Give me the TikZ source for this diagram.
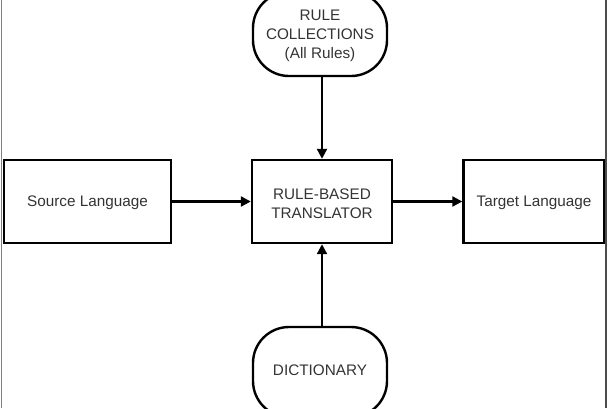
\documentclass[tikz,border=0pt]{standalone}
\usepackage{fontspec}
\setmainfont{Liberation Sans}
\usetikzlibrary{arrows.meta}
\definecolor{txt}{gray}{0.2}
\tikzset{
  lbl/.style={text=txt, font=\fontsize{15.3}{19}\selectfont, align=center},
  box/.style={draw=black, line width=2.4pt, minimum height=83pt, inner sep=0pt},
  pill/.style={draw=black, line width=2.4pt, rounded corners=36pt, minimum width=134pt,
    inner sep=0pt},
  arr/.style={line width=2.2pt, -{Triangle[length=10pt,width=10pt]}},
  edge/.style={line width=1pt, draw=black!70}
}
\begin{document}
\begin{tikzpicture}[x=1pt,y=-1pt]
\useasboundingbox (0,0) rectangle (612,408);
\clip (0,0) rectangle (612,408);
\node[box, minimum width=167pt] (src) at (87.5,201.5) {};
\node[lbl] (srct) at (87.5,203) {Source Language};
\node[box, minimum width=140pt] (t) at (322,201.5) {};
\node[lbl] (tt) at (322,203.5) {RULE-BASED\\TRANSLATOR};
\node[box, minimum width=141pt] (tgt) at (534,201.5) {};
\node[lbl] (tgtt) at (534,203) {Target Language};
\node[pill, minimum height=84pt] (rc) at (320,34) {};
\node[lbl] (rct) at (320,35.5) {RULE\\COLLECTIONS\\(All Rules)};
\node[pill, minimum height=90pt] (dict) at (320,372) {};
\node[lbl] (dictt) at (320,370) {DICTIONARY};
\coordinate (lb1) at (1,0); \coordinate (lb2) at (1,408);
\coordinate (rb1) at (606,0); \coordinate (rb2) at (606,408);
\draw[edge, draw=black!50, line width=0.8pt] (lb1) -- (lb2);
\draw[edge, line width=1.4pt] (rb1) -- (rb2);
\draw[arr] (src.east) -- (t.west);
\draw[arr] (t.east) -- (tgt.west);
\draw[arr] (t.north |- rc.south) -- (t.north);
\draw[arr] (t.south |- dict.north) -- (t.south);
\end{tikzpicture}
\end{document}
